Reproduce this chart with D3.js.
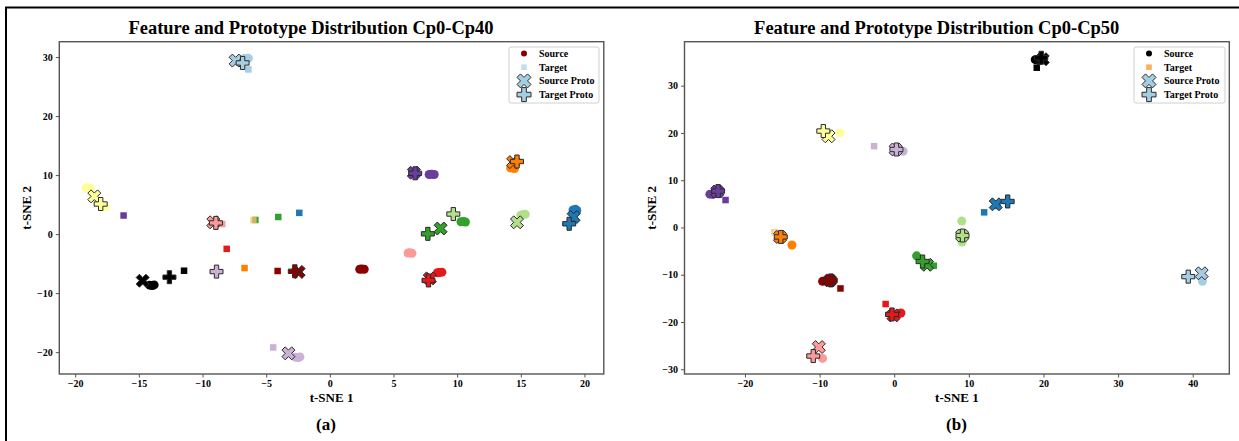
<!DOCTYPE html>
<html>
<head>
<meta charset="utf-8">
<script src="https://cdn.jsdelivr.net/npm/d3@7"></script>
<style>
  html, body { margin: 0; padding: 0; background: #fff; }
  svg { display: block; }
  text { font-family: "Liberation Serif", "Times New Roman", serif; font-weight: bold; fill: #000; }
</style>
</head>
<body>
<svg id="fig" width="1239" height="441"></svg>
<script>
// Class colours (Paired palette plus dark red and black)
const classColors = {
  lightblue: "#a6cee3", blue: "#1f78b4", lightgreen: "#b2df8a", green: "#33a02c",
  pink: "#fb9a99", red: "#e31a1c", lightorange: "#fdbf6f", orange: "#ff7f00",
  lightpurple: "#cab2d6", purple: "#6a3d9a", yellow: "#ffff99",
  darkred: "#8b0000", black: "#000000"
};

// ---------- Panel (a): Cp0-Cp40 ----------
const aSource = [
  ["lightblue", -6.75, 29.75], ["lightblue", -6.55, 29.7], ["lightblue", -6.4, 29.8],
  ["yellow", -19.15, 7.8], ["yellow", -18.95, 7.85], ["yellow", -18.8, 7.75],
  ["purple", 7.8, 10.1], ["purple", 8.0, 10.15], ["purple", 8.2, 10.1],
  ["orange", 14.2, 11.2], ["orange", 14.4, 11.25], ["orange", 14.5, 11.1],
  ["green", 10.3, 2.1], ["green", 10.5, 2.15], ["green", 10.65, 2.05],
  ["lightgreen", 15.0, 3.2], ["lightgreen", 15.15, 3.3], ["lightgreen", 15.35, 3.35],
  ["blue", 19.1, 4.1], ["blue", 19.3, 4.2], ["blue", 19.4, 4.0],
  ["pink", 6.15, -3.2], ["pink", 6.3, -3.15], ["pink", 6.45, -3.25],
  ["red", 8.45, -6.55], ["red", 8.6, -6.5], ["red", 8.8, -6.45],
  ["darkred", 2.35, -5.95], ["darkred", 2.5, -5.9], ["darkred", 2.7, -5.95],
  ["black", -14.15, -8.65], ["black", -13.95, -8.7], ["black", -13.8, -8.6],
  ["lightpurple", -2.7, -20.85], ["lightpurple", -2.5, -20.9], ["lightpurple", -2.35, -20.8]
];
const aTarget = [
  ["lightblue", -6.4, 27.9], ["yellow", -17.6, 4.5], ["purple", -16.2, 3.15],
  ["pink", -8.45, 1.7], ["green", -5.85, 2.4], ["lightorange", -6.0, 2.37],
  ["green", -4.05, 2.9], ["blue", -2.4, 3.6], ["red", -8.1, -2.5],
  ["orange", -6.7, -5.75], ["darkred", -4.1, -6.25], ["black", -11.45, -6.2],
  ["lightpurple", -4.45, -19.2]
];
const aSourceProto = [
  ["lightblue", -7.4, 29.4], ["yellow", -18.5, 6.4], ["purple", 6.6, 10.4],
  ["orange", 14.4, 12.2], ["green", 8.7, 0.95], ["lightgreen", 14.7, 2.0],
  ["blue", 19.15, 2.9], ["pink", -9.15, 2.0], ["red", 7.85, -7.5],
  ["darkred", -2.45, -6.4], ["black", -14.7, -7.9], ["lightpurple", -3.25, -20.2]
];
const aTargetProto = [
  ["lightblue", -6.85, 29.0], ["yellow", -18.0, 5.1], ["purple", 6.7, 10.3],
  ["orange", 14.7, 12.3], ["green", 7.7, 0.05], ["lightgreen", 9.7, 3.4],
  ["blue", 18.8, 1.75], ["pink", -8.95, 1.9], ["red", 7.75, -7.85],
  ["darkred", -2.75, -6.3], ["black", -12.6, -7.3], ["lightpurple", -8.9, -6.35]
];
const aXTicks = [-20, -15, -10, -5, 0, 5, 10, 15, 20];
const aYTicks = [-20, -10, 0, 10, 20, 30];

// ---------- Panel (b): Cp0-Cp50 ----------
const bSource = [
  ["black", 18.9, 35.5], ["black", 19.4, 35.3],
  ["purple", -24.7, 7.05], ["purple", -24.3, 7.0],
  ["yellow", -7.25, 20.0], ["lightpurple", 1.2, 16.1],
  ["orange", -13.7, -3.7], ["darkred", -9.6, -11.4], ["darkred", -9.2, -11.3],
  ["red", 0.9, -18.1], ["red", 0.5, -18.3], ["pink", -9.6, -27.7],
  ["green", 3.0, -6.0], ["lightgreen", 9.05, 1.35], ["lightgreen", 9.1, -3.1],
  ["blue", 13.7, 4.8], ["lightblue", 41.3, -11.4]
];
const bTarget = [
  ["black", 19.1, 33.8], ["purple", -22.6, 5.8], ["lightpurple", -2.7, 17.2],
  ["lightorange", -16.05, -1.0], ["darkred", -7.2, -12.9], ["red", -1.15, -16.2],
  ["green", 5.3, -8.1], ["blue", 12.05, 3.2]
];
const bSourceProto = [
  ["black", 19.9, 35.6], ["purple", -23.7, 7.6], ["yellow", -8.8, 19.3],
  ["lightpurple", 0.2, 16.5], ["orange", -15.3, -2.0], ["darkred", -8.6, -11.2],
  ["red", -0.1, -18.6], ["pink", -10.1, -25.3], ["green", 4.4, -7.9],
  ["lightgreen", 9.1, -1.7], ["blue", 13.6, 4.9], ["lightblue", 41.2, -9.7]
];
const bTargetProto = [
  ["black", 19.7, 35.9], ["purple", -23.6, 7.7], ["yellow", -9.5, 20.4],
  ["lightpurple", 0.3, 16.5], ["orange", -15.2, -2.0], ["darkred", -8.5, -11.2],
  ["red", -0.3, -18.4], ["pink", -10.85, -27.2], ["green", 3.8, -7.2],
  ["lightgreen", 9.15, -1.7], ["blue", 15.2, 5.5], ["lightblue", 39.4, -10.4]
];
const bXTicks = [-20, -10, 0, 10, 20, 30, 40];
const bYTicks = [-30, -20, -10, 0, 10, 20, 30];

const legendLabels = ["Source", "Target", "Source Proto", "Target Proto"];

// Filled marker outlines (unit size), same geometry as matplotlib's 'X' and 'P'
const xVerts = [[-1,-2],[0,-1],[1,-2],[2,-1],[1,0],[2,1],[1,2],[0,1],[-1,2],[-2,1],[-1,0],[-2,-1]].map(p => [p[0]/4, p[1]/4]);
const plusVerts = [[-1,-3],[1,-3],[1,-1],[3,-1],[3,1],[1,1],[1,3],[-1,3],[-1,1],[-3,1],[-3,-1],[-1,-1]].map(p => [p[0]/6, p[1]/6]);
const markerPath = (verts, s) => "M" + verts.map(p => (p[0]*s).toFixed(2) + "," + (p[1]*s).toFixed(2)).join("L") + "Z";

const svg = d3.select("#fig");
svg.append("rect").attr("width", 1239).attr("height", 441).attr("fill", "#fff");

// outer frame lines of the figure (top and left)
svg.append("path").attr("d", "M6,448 V7.5 H1239")
  .attr("fill", "none").attr("stroke", "#000").attr("stroke-width", 2);

const fmt = v => (v < 0 ? "\u2212" + Math.abs(v) : String(v));
const PROTO = 13;

function panel(cfg) {
  const x = d3.scaleLinear().domain(cfg.xDomain).range([cfg.left, cfg.right]);
  const y = d3.scaleLinear().domain(cfg.yDomain).range([cfg.bottom, cfg.top]);
  const g = svg.append("g");

  // plot area clip
  const clipId = "clip-" + cfg.id;
  g.append("clipPath").attr("id", clipId).append("rect")
    .attr("x", cfg.left).attr("y", cfg.top)
    .attr("width", cfg.right - cfg.left).attr("height", cfg.bottom - cfg.top);
  const plot = g.append("g").attr("clip-path", `url(#${clipId})`);

  // source features
  plot.selectAll("circle.src").data(cfg.source).join("circle")
    .attr("class", "src")
    .attr("cx", d => x(d[1])).attr("cy", d => y(d[2])).attr("r", 4.5)
    .attr("fill", d => classColors[d[0]]);

  // target features
  const sq = 6.5;
  plot.selectAll("rect.tgt").data(cfg.target).join("rect")
    .attr("class", "tgt")
    .attr("x", d => x(d[1]) - sq/2).attr("y", d => y(d[2]) - sq/2)
    .attr("width", sq).attr("height", sq)
    .attr("fill", d => classColors[d[0]])
    .attr("fill-opacity", d => d[0] === "lightorange" ? 0.75 : 1);

  // source prototypes
  plot.selectAll("path.sp").data(cfg.sourceProto).join("path")
    .attr("class", "sp")
    .attr("d", markerPath(xVerts, PROTO))
    .attr("transform", d => `translate(${x(d[1])},${y(d[2])})`)
    .attr("fill", d => classColors[d[0]])
    .attr("stroke", "#2a2a2a").attr("stroke-width", 1).attr("stroke-linejoin", "miter");

  // target prototypes
  plot.selectAll("path.tp").data(cfg.targetProto).join("path")
    .attr("class", "tp")
    .attr("d", markerPath(plusVerts, PROTO))
    .attr("transform", d => `translate(${x(d[1])},${y(d[2])})`)
    .attr("fill", d => classColors[d[0]])
    .attr("stroke", "#2a2a2a").attr("stroke-width", 1).attr("stroke-linejoin", "miter");

  // axes
  const xAxis = d3.axisBottom(x).tickValues(cfg.xTicks).tickFormat(fmt).tickSize(3.5).tickPadding(2.5);
  const yAxis = d3.axisLeft(y).tickValues(cfg.yTicks).tickFormat(fmt).tickSize(3.5).tickPadding(3);
  const gx = g.append("g").attr("transform", `translate(0,${cfg.bottom})`).call(xAxis);
  const gy = g.append("g").attr("transform", `translate(${cfg.left},0)`).call(yAxis);
  [gx, gy].forEach(a => {
    a.select(".domain").remove();
    a.selectAll(".tick line").attr("stroke", "#555").attr("stroke-width", 1);
    a.selectAll(".tick text").style("font-family", '"Liberation Serif", "Times New Roman", serif')
      .style("font-weight", "bold").style("font-size", "10px").attr("fill", "#000");
  });

  // frame of the axes
  g.append("rect").attr("x", cfg.left).attr("y", cfg.top)
    .attr("width", cfg.right - cfg.left).attr("height", cfg.bottom - cfg.top)
    .attr("fill", "none").attr("stroke", "#555").attr("stroke-width", 1.4);

  // titles and labels
  g.append("text").attr("x", cfg.titleX).attr("y", 34).attr("text-anchor", "middle")
    .style("font-size", "18.5px").text(cfg.title);
  g.append("text").attr("x", (cfg.left + cfg.right) / 2).attr("y", 402).attr("text-anchor", "middle")
    .style("font-size", "13px").text("t-SNE 1");
  g.append("text").attr("transform", `translate(${cfg.yLabelX},${(cfg.top + cfg.bottom) / 2}) rotate(-90)`)
    .attr("text-anchor", "middle").style("font-size", "13px").text("t-SNE 2");
  g.append("text").attr("x", cfg.tagX).attr("y", 430).attr("text-anchor", "middle")
    .style("font-size", "17px").text(cfg.tag);

  // legend
  const lg = g.append("g");
  lg.append("rect").attr("x", cfg.legend.x).attr("y", 47).attr("width", cfg.legend.w).attr("height", 56)
    .attr("rx", 2).attr("fill", "#fff").attr("stroke", "#d0d0d0").attr("stroke-width", 1);
  const rows = [53.5, 67.2, 80.9, 94.6];
  const mx = cfg.legend.x + 15;
  lg.append("circle").attr("cx", mx).attr("cy", rows[0]).attr("r", 3).attr("fill", cfg.legend.srcColor);
  lg.append("rect").attr("x", mx - 2.8).attr("y", rows[1] - 2.8).attr("width", 5.6).attr("height", 5.6)
    .attr("fill", cfg.legend.tgtColor);
  lg.append("path").attr("d", markerPath(xVerts, 14)).attr("transform", `translate(${mx},${rows[2]})`)
    .attr("fill", classColors.lightblue).attr("stroke", "#2a2a2a").attr("stroke-width", 1);
  lg.append("path").attr("d", markerPath(plusVerts, 14)).attr("transform", `translate(${mx},${rows[3]})`)
    .attr("fill", classColors.lightblue).attr("stroke", "#2a2a2a").attr("stroke-width", 1);
  legendLabels.forEach((t, i) => {
    lg.append("text").attr("x", cfg.legend.x + 30).attr("y", rows[i] + 3.5)
      .style("font-size", "10px").text(t);
  });
}

panel({
  id: "a", left: 59.3, right: 603.8, top: 41.7, bottom: 374,
  xDomain: [-21.25, 21.52], yDomain: [-23.7, 32.6],
  source: aSource, target: aTarget, sourceProto: aSourceProto, targetProto: aTargetProto,
  xTicks: aXTicks, yTicks: aYTicks,
  title: "Feature and Prototype Distribution Cp0-Cp40", titleX: 311,
  yLabelX: 31, tag: "(a)", tagX: 326,
  legend: { x: 509, w: 90, srcColor: classColors.darkred, tgtColor: "#c4deec" }
});

panel({
  id: "b", left: 684.5, right: 1229.3, top: 41.7, bottom: 374,
  xDomain: [-28.1, 44.9], yDomain: [-31.0, 39.3],
  source: bSource, target: bTarget, sourceProto: bSourceProto, targetProto: bTargetProto,
  xTicks: bXTicks, yTicks: bYTicks,
  title: "Feature and Prototype Distribution Cp0-Cp50", titleX: 936.7,
  yLabelX: 656, tag: "(b)", tagX: 956.5,
  legend: { x: 1134, w: 91, srcColor: classColors.black, tgtColor: "#fdae61" }
});
</script>
</body>
</html>
